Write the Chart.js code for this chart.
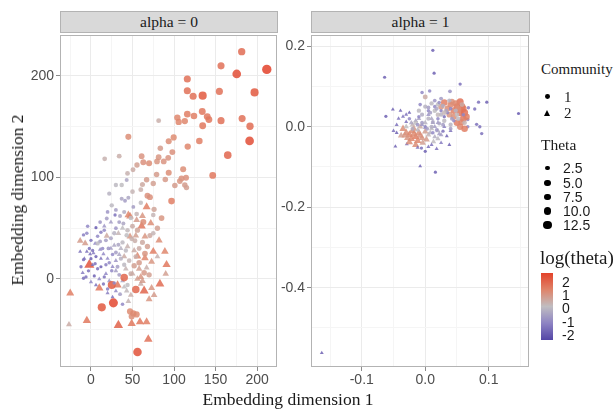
<!DOCTYPE html>
<html><head><meta charset="utf-8">
<script src="https://cdn.jsdelivr.net/npm/chart.js@4/dist/chart.umd.min.js"></script>
<style>
html,body{margin:0;padding:0;background:#fff;}
body{width:616px;height:409px;overflow:hidden;position:relative;font-family:'Liberation Serif','Times New Roman',serif;color:#1a1a1a;}
canvas{position:absolute;}
.strip{position:absolute;top:11px;height:22px;background:#d9d9d9;border:1px solid #b3b3b3;box-sizing:border-box;font-size:15.5px;text-align:center;line-height:19px;color:#1a1a1a;}
.t{position:absolute;white-space:nowrap;}
.serif{font-family:'Liberation Serif','Times New Roman',serif;}
.sans{font-family:'Liberation Sans',Arial,sans-serif;}
.dot{position:absolute;background:#000;border-radius:50%;}
</style></head><body>
<canvas id="cL" width="285" height="375" style="left:0;top:25px"></canvas>
<canvas id="cR" width="270" height="375" style="left:270px;top:25px"></canvas>
<div class="strip" style="left:60px;width:218px">alpha = 0</div>
<div class="strip" style="left:311px;width:219px">alpha = 1</div>
<div class="t serif" style="left:53px;width:470px;top:389px;font-size:17.5px;line-height:20px;text-align:center">Embedding dimension 1</div>
<div class="t serif" style="left:17px;top:200px;font-size:17.5px;line-height:20px;transform:translate(-50%,-50%) rotate(-90deg)">Embedding dimension 2</div>
<div id="legend"></div>
<script>
// ---------------- DATA ----------------
// Panel "alpha = 0": [x, y, theta]
const leftComm1 = [
[181.5,224,5.5],[156.6,210,5],[175.5,202,9],[211.7,206.5,11],[116,197,5],[116,185.4,5],[123,180,5],[134.5,180.6,7.5],[154.6,184.8,5],[197,183.8,7.5],
[134,165,4.5],[140,160,4.5],[142,157,4.5],[116,162.4,4],[124,160.5,4],[104,159,3.5],[105.6,154.7,3.5],[113,155.6,3.5],[134.5,151,4.5],[156.6,156,5],
[182,158,5],[191.5,150.5,5.5],[191,136,9],[164.7,122,6],[81.5,156,1.4],[45,140,3],[99.6,139.5,3.2],[93.6,135.6,3],[130.5,136,4],[116.5,130.4,3.5],
[83.5,128.8,2.2],[98,125,2.8],[16.5,118.4,1.3],[34,121,1.4],[61,121,2.6],[63,115,2.8],[70,114,3],[55.4,112.3,2],[81.5,120,2.5],[79.5,115.8,2.5],
[87.6,115.8,2.6],[93,119.4,2.6],[50.6,107.5,1.5],[44,104,1.3],[43,97.4,0.6],[79,103,2.2],[93.6,104.6,3],[111,108,3],[114.5,99.7,2.8],[109,99,2.8],
[107,96.4,2.5],[146.6,102,4.5],[67,97.8,2.2],[89.5,98,2.3],[75,94,2],[101,92,2.2],[113,92.5,2.2],[115,90,2.0],[62,93,1.6],[30,92.5,0.9],[37,92.5,1.0],
[-9,0.7,0.2],[25,-6,7],[40,1.3,6],[54,-10.4,6],[13,-28,7.5],[27,-23.6,10],[51,-34,3.5],[47,-32,3.2],[55,-35,3.2],[49,-37,3],[56,-72,8.5],
[-5,45,0.3],[-9,43.4,0.25],[6,50.5,0.13],[11,56,0.4],[19,59.5,0.5],[29,63,0.2],[34,56,0.5],[39,54.7,0.6],[37,79,0.6],[41,77,0.5],[25,72.5,0.9],
[51,71,0.5],[68,82,2.8],[71,80.6,2.8],[76,68.6,1.8],[97,76.7,4],[75,63,1.2],[63,56,3],[43,43,1.0],[49,39.5,1.3],[53,37.6,1.4],[71,42.7,1.6],
[75,45,1.2],[11,37,0.5],[8,35,0.9],[33,33.7,0.6],[-9,19,0.2],[0,20,0.15],[5,15,0.2],[12,12,0.15],[18,14,0.25],[25,8,0.3],[32,12,0.5],[-3,8,0.2],
[4,3,0.15],[15,-5,0.2],[20,-10,0.25],[35,-15,0.5],[38,-25,0.3],[48,5,1.5],[52,13,2.0],[58,30,1.5],[42,28,0.9],[28,45,0.8],[16,48,0.3],[21,30,0.4],
[35,62,0.6],[45,80,0.6],[60,75,1.0],[22,84,0.8],[30,50,0.4],[65,25,2.5],[-2,30,0.2],[8,42,0.3],
[2,28,0.2],[6,22,0.15],[14,30,0.3],[18,38,0.5],[24,40,0.6],[26,24,0.3],[30,26,0.5],[38,36,0.9],[44,48,1.1],[50,52,1.5],[56,48,1.8],[62,36,1.6],
[68,32,2.0],[46,18,1.2],[40,14,0.9],[34,4,0.5],[28,-4,0.3],[44,-6,1.0],[58,16,2.2],[64,6,2.3],[70,4,2.0],[-12,12,0.2],[-6,2,0.2],[8,10,0.2],
[16,2,0.2],[22,16,0.3],[36,20,0.8],[54,22,1.4],[48,60,1.0],[55,64,1.2],[40,66,0.7],[30,68,0.5],[20,66,0.4],[12,46,0.25],[0,38,0.2],[-4,52,0.3],
[60,88,1.4],[50,86,1.2],[85,60,2.5],[80,50,2.0]
];
const leftComm2 = [
[-25,-14,4],[-26.5,-45,1.5],[-5,-41,4.5],[33,-45.6,6.5],[49,-44,4.5],[59,-42.4,4.5],[67,-42.4,4],[69,-59.5,5],[-2,14,8],[0,-3,0.3],
[10,-9,4.5],[32,-6,4.5],[64,-11.7,6],[73,-9,2.5],[76,-16,2.2],[43,-11.7,1.1],[45,-22,1.2],[83,-5,5.5],[90,5,2.0],[91,14,4.5],
[89,27,3.5],[80,22,1.3],[75,27,4],[67,11,1.4],[-13,37.6,2.2],[-7,35,2.2],[19,42.4,1.6],[45,63,3.5],[47,61.8,3.5],[61,52,4.5],
[65,41.7,2.5],[56,22.3,3.5],[65,20.7,3.5],[-13,27,0.2],[-5,27,0.2],[-1,24.5,0.2],[3,25.5,0.25],[15,24.6,0.3],[11,29,0.3],[20,20,0.3],
[30,18,0.4],[40,22,1.5],[47,41.7,2.5],[54,42.7,2.0],[73,17,2.5],[67,71,4],[33,45,1.2],[28,33,0.6],[36,30,0.8],[24,30,0.5],
[42,10,1.2],[50,5,1.5],[56,0,2.0],[30,8,0.5],[18,5,0.3],[10,0,0.3],[22,-2,0.4],[38,-2,0.6],[30,-12,0.3],[26,-18,0.2],[60,2,2.5],[60,-5,1.5],
[5,35,0.3],[12,20,0.2],[26,12,0.3],[34,24,0.6],[44,32,1.3],[52,28,1.5],[58,10,2.0],[62,-2,2.2],[70,-20,2.5],[48,-16,1.4],[40,-8,1.0],
[20,-14,0.25],[6,-6,0.2],[-8,20,0.2],[-10,6,0.25],[2,14,0.2],[16,52,0.4],[24,56,0.5],[38,50,1.0],[55,58,2.2],[72,55,3.0],[82,38,3.0],[62,62,2.5]
];
// Panel "alpha = 1": [x, y, theta]
const rightComm1 = [
[0.012,0.190,0.15],[0.014,0.133,0.15],[-0.064,0.123,0.15],[0.055,0.106,0.2],[-0.005,0.085,0.3],[0.007,0.089,0.3],[0.039,0.088,0.4],[0.084,0.061,0.2],
[0.097,0.061,0.15],[0.147,0.033,0.13],[-0.062,0.026,0.15],[0.068,0.047,0.25],[0.078,0.044,0.2],[0.067,0.018,0.3],[0.081,0.006,0.2],[0.086,0.000,0.2],
[0.089,-0.017,0.2],[0.067,0.000,0.3],[0.028,-0.011,0.2],[-0.006,-0.053,0.2],[0.000,-0.061,0.15],[0.016,-0.113,0.15],[0.0,0.074,1.5],
[0.030,0.060,4],[0.055,0.062,5],[0.050,0.050,4.5],[0.045,0.040,4],[0.055,0.035,5],[0.040,0.055,3.5],[0.035,0.045,3],[0.060,0.020,4.5],
[0.050,0.010,4],[0.055,0.000,3.5],[0.045,0.025,3],[0.025,0.050,2.5],[0.038,0.030,2.5],[0.060,0.045,4],
[0.048,0.058,3.5],[0.058,0.050,4.5],[0.062,0.035,5],[0.052,0.045,3],[0.042,0.062,3],[0.065,0.025,4],[0.057,0.012,3.5],[0.062,-0.005,4],
[0.020,0.055,1.0],[0.010,0.058,0.9],[0.000,0.050,0.8],[-0.010,0.040,0.9],[0.015,0.040,1.0],[0.025,0.030,0.8],[0.005,0.020,0.8],[-0.015,0.010,1.0],
[-0.005,0.030,0.7],[0.030,0.015,0.9],[0.040,0.005,0.8],[0.050,0.030,1.0],[0.022,0.008,0.6],[-0.020,-0.005,0.7],[0.010,0.000,0.7],
[0.015,0.050,0.3],[0.025,0.040,0.25],[0.035,0.035,0.3],[0.030,0.025,0.2],[0.045,0.015,0.3],[0.020,0.020,0.3],[0.005,0.040,0.3],[-0.010,0.025,0.3],
[0.000,0.000,0.3],[0.012,-0.015,0.3],[0.040,0.045,0.3],[0.022,0.060,0.35],[-0.025,0.020,0.3],[0.060,0.030,0.3],
[0.018,0.045,0.6],[0.028,0.052,0.7],[0.008,0.035,0.5],[0.033,0.040,0.6],[0.042,0.020,0.5],[0.012,0.012,0.6],[-0.005,0.010,0.5],[-0.012,0.005,0.4],
[0.003,-0.005,0.5],[0.018,-0.008,0.4],[0.028,0.005,0.5],[0.048,0.040,0.8],[0.052,0.020,0.9],[0.038,0.065,0.8],[0.025,0.070,0.5],[0.015,0.065,0.4],
[-0.008,0.055,0.3],[0.058,0.055,1.5],[0.062,0.010,1.2],[0.040,-0.005,0.5],[0.005,0.048,0.5],[0.030,0.035,1.2],[0.020,0.030,1.1]
];
const rightComm2 = [
[-0.163,-0.562,0.15],[-0.051,0.043,0.15],[-0.039,0.040,0.15],[-0.042,0.02,0.2],[-0.03,0.012,0.2],[-0.047,-0.049,0.15],[-0.029,-0.043,0.2],
[0.034,-0.023,0.15],[0.038,-0.045,0.15],[-0.008,-0.098,0.15],[0.013,-0.037,1.0],[0.02,-0.03,0.9],
[-0.030,-0.015,3],[-0.025,-0.020,3.5],[-0.020,-0.010,3],[-0.015,-0.025,4],[-0.010,-0.015,3],[-0.022,-0.030,3.5],[-0.035,-0.005,3],[-0.018,-0.005,2.5],
[-0.005,-0.028,2.5],[-0.012,-0.035,3.5],[-0.028,-0.028,2.5],[-0.038,-0.022,2.0],[0.000,-0.012,2.0],[-0.008,0.000,1.5],[-0.02,0.005,1.2],[-0.03,0.0,1.0],
[0.005,-0.02,1.2],[0.01,-0.005,1.0],[-0.004,-0.04,2.0],
[-0.025,-0.038,3],[-0.032,-0.022,2.5],[-0.015,-0.045,3],[-0.008,-0.022,2.8],[-0.018,-0.018,3.2],[0.002,-0.032,2.2],
[0.0,0.01,0.8],[0.01,0.02,0.6],[0.02,-0.01,0.7],[0.025,-0.02,0.5],[-0.01,0.02,0.6],[0.005,0.03,0.4],[0.015,0.0,0.5],[-0.015,0.015,0.5],[0.02,0.01,0.4],
[-0.045,0.005,0.2],[-0.05,-0.01,0.2],[0.005,-0.05,0.2],[0.025,-0.04,0.25],[-0.03,0.03,0.2],[0.03,0.0,0.25],[0.04,-0.01,0.2],
[-0.035,0.025,0.2],[-0.025,0.035,0.15],[-0.045,-0.015,0.15],[0.01,-0.045,0.2],[0.018,-0.055,0.2],[-0.012,-0.052,0.2],
[-0.012,-0.008,0.9],[0.008,-0.015,0.8],[0.015,-0.025,0.7],[-0.022,0.010,0.6],[0.0,-0.002,0.5],[0.012,0.01,0.5],[-0.005,0.005,0.4],[0.022,-0.018,0.5]
];
// Axes
const leftXMajor = [0,50,100,150,200], leftXMinor = [-25,25,75,125,175];
const leftYMajor = [0,100,200], leftYMinor = [-50,50,150];
const rightXMajor = [-0.1,0.0,0.1], rightXMinor = [-0.15,-0.05,0.05,0.15];
const rightYMajor = [-0.4,-0.2,0.0,0.2], rightYMinor = [-0.5,-0.3,-0.1,0.1];
const leftRange = {xmin:-37.3, xmax:224, ymin:-86.8, ymax:240};
const rightRange = {xmin:-0.18, xmax:0.1635, ymin:-0.597, ymax:0.227};
// Legend
const communityLabels = ['1','2'];
const thetaLegend = [2.5,5.0,7.5,10.0,12.5];
const thetaLegendLabels = ['2.5','5.0','7.5','10.0','12.5'];
const colorbarLabels = ['2','1','0','-1','-2'];

// ---------------- STYLE ----------------
const STOPS=[[-1,[84,70,166]],[-0.5,[146,136,198]],[0,[192,189,193]],[0.5,[223,138,112]],[1,[227,66,42]]];
function colOf(theta, a){
  let t=Math.log(theta)/2.4; t=Math.max(-1,Math.min(1,t));
  let i=0; while(i<STOPS.length-2 && t>STOPS[i+1][0]) i++;
  const [t0,c0]=STOPS[i],[t1,c1]=STOPS[i+1]; const f=(t-t0)/(t1-t0);
  const c=c0.map((v,k)=>Math.round(v+(c1[k]-v)*f));
  return `rgba(${c[0]},${c[1]},${c[2]},${a===undefined?0.85:a})`;
}
function radOf(theta){ return 1.2+1.05*Math.sqrt(theta); }

const near=(v,arr)=>arr.some(m=>Math.abs(m-v)<1e-9);
function mkDataset(pts, style){
  return {
    data: pts.map(p=>({x:p[0],y:p[1]})),
    pointStyle: style,
    pointRadius: pts.map(p=>radOf(p[2])*(style==='triangle'?1.4:1)),
    pointBackgroundColor: pts.map(p=>colOf(p[2])),
    pointBorderWidth: 0, pointBorderColor:'rgba(0,0,0,0)',
    showLine:false
  };
}
const borderPlugin={id:'pborder',afterDraw(chart){
  const {ctx,chartArea:a}=chart; ctx.save(); ctx.strokeStyle='#b3b3b3'; ctx.lineWidth=1;
  ctx.strokeRect(Math.round(a.left)+0.5,Math.round(a.top)+0.5,Math.round(a.right-a.left)-1,Math.round(a.bottom-a.top)-1);
  ctx.restore();}};
function axis(pos, major, minor, min, max, fmt, fit){
  const all=[...major,...minor].sort((a,b)=>a-b);
  return {
    type:'linear', position:pos, min:min, max:max,
    afterBuildTicks(s){ s.ticks = all.map(v=>({value:v})); },
    afterFit(s){ if(pos==='left') s.width=fit; else s.height=fit; },
    border:{display:false},
    grid:{
      color:c=>c.tick&&near(c.tick.value,major)?'#ebebeb':'#f5f5f5',
      lineWidth:1, drawTicks:true, tickLength:4,
      tickColor:c=>c.tick&&near(c.tick.value,major)?'#8c8c8c':'rgba(0,0,0,0)'
    },
    ticks:{autoSkip:false, maxRotation:0, padding:pos==='left'?2:1, color:'#4d4d4d',
      font:{family:"'Liberation Sans', Arial, sans-serif", size:14},
      callback:v=>near(v,major)?fmt(v):''}
  };
}
function makeChart(id, d1, d2, rng, xM, xm, yM, ym, fmtx, fmty, yw, padR){
  return new Chart(document.getElementById(id),{
    type:'scatter',
    data:{datasets:[mkDataset(d1,'circle'), mkDataset(d2,'triangle')]},
    options:{responsive:false, animation:false, events:[],
      layout:{padding:{top:7,right:padR,left:0,bottom:0}},
      plugins:{legend:{display:false},tooltip:{enabled:false}},
      scales:{
        x:axis('bottom',xM,xm,rng.xmin,rng.xmax,fmtx,33),
        y:axis('left',yM,ym,rng.ymin,rng.ymax,fmty,yw)
      }},
    plugins:[borderPlugin]
  });
}
makeChart('cL',leftComm1,leftComm2,leftRange,leftXMajor,leftXMinor,leftYMajor,leftYMinor,v=>String(v),v=>String(v),60,8);
makeChart('cR',rightComm1,rightComm2,rightRange,rightXMajor,rightXMinor,rightYMajor,rightYMinor,v=>v.toFixed(1),v=>v.toFixed(1),41,11);

// ---------------- LEGEND ----------------
const lg=document.getElementById('legend');
function addText(txt,cls,x,cy,fs){
  const d=document.createElement('div'); d.className='t '+cls; d.textContent=txt;
  d.style.left=x+'px'; d.style.top=(cy-fs*0.6)+'px'; d.style.fontSize=fs+'px'; d.style.lineHeight=(fs*1.2)+'px';
  lg.appendChild(d);
}
function addDot(cx,cy,r){
  const d=document.createElement('div'); d.className='dot';
  d.style.left=(cx-r)+'px'; d.style.top=(cy-r)+'px'; d.style.width=(2*r)+'px'; d.style.height=(2*r)+'px';
  lg.appendChild(d);
}
addText('Community','serif',541,69,15);
addDot(547.5,96.5,2.4);
const tri=document.createElement('div');
tri.style.cssText='position:absolute;left:544px;top:109.5px;width:0;height:0;border-left:3.5px solid transparent;border-right:3.5px solid transparent;border-bottom:6px solid #000;';
lg.appendChild(tri);
addText(communityLabels[0],'serif',564,96.5,15);
addText(communityLabels[1],'serif',564,112.5,15);
addText('Theta','serif',541,145,15.5);
const thetaY=[168,183,197,211,225];
thetaLegend.forEach((th,i)=>{ addDot(547.5,thetaY[i],radOf(th)*0.85); addText(thetaLegendLabels[i],'sans',563,thetaY[i],14); });
addText('log(theta)','serif',540,258,19);
const bar=document.createElement('div');
bar.style.cssText='position:absolute;left:541px;top:273px;width:12px;height:67px;background:linear-gradient(to bottom,'+
  [2.6,1.3,0,-1.3,-2.6].map(l=>colOf(Math.exp(l),1)).join(',')+');';
lg.appendChild(bar);
const cbY=[282,295,308,322,335];
colorbarLabels.forEach((l,i)=>addText(l,'sans',562,cbY[i],14));
</script>
</body></html>
